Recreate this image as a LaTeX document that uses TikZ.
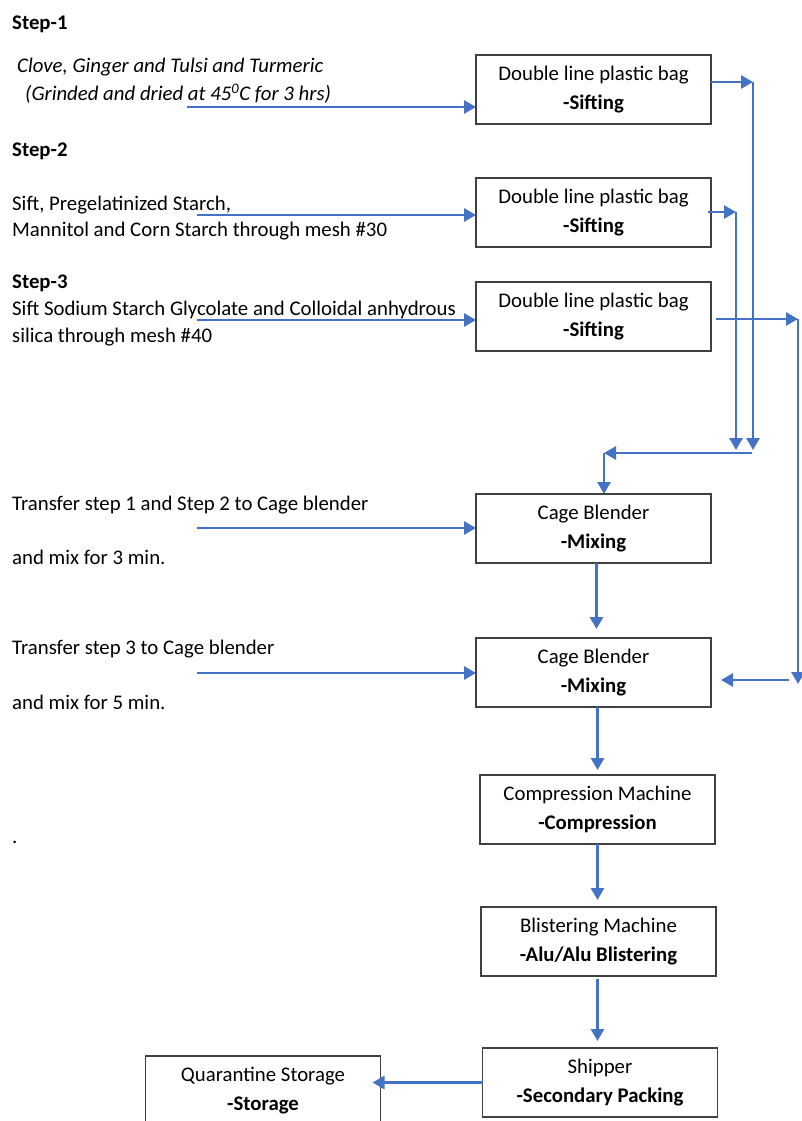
\documentclass[tikz,border=0pt]{standalone}
\usepackage{fontspec}
\setmainfont{Carlito}
\usetikzlibrary{positioning}
\usetikzlibrary{arrows.meta}
\definecolor{flowblue}{HTML}{4472C4}

\begin{document}
\begin{tikzpicture}[x=1pt, y=-1pt,
                font=\fontsize{20.8}{29}\selectfont,
                processnode/.style={rectangle, draw=black!75, line width=1.2pt, fill=white, minimum width=235pt, minimum height=69pt, align=center, inner sep=0pt, outer sep=0pt},
                labelnode/.style={anchor=west, inner sep=0pt, text height=18pt, text depth=2pt},
                flowarrow/.style={draw=flowblue, line width=2.8pt, -{Triangle[length=12pt, width=13pt]}},
                ]
                \useasboundingbox (0,0) rectangle (801,1121);

                % machines
                \node[processnode] (bag1) at (593.5,89.5) {Double line plastic bag\\\textbf{-Sifting}};
                \node[processnode, below=54pt of bag1] (bag2) {Double line plastic bag\\\textbf{-Sifting}};
                \node[processnode, below=35pt of bag2] (bag3) {Double line plastic bag\\\textbf{-Sifting}};
                \node[processnode, below=143pt of bag3] (blend1) {Cage Blender\\\textbf{-Mixing}};
                \node[processnode, below=75pt of blend1] (blend2) {Cage Blender\\\textbf{-Mixing}};
                \node[processnode, below=68pt of blend2, xshift=4pt] (compress) {Compression Machine\\\textbf{-Compression}};
                \node[processnode, below=63pt of compress, xshift=1pt] (blister) {Blistering Machine\\\textbf{-Alu/Alu Blistering}};
                \node[processnode, below=72pt of blister, xshift=1.5pt] (shipper) {Shipper\\\textbf{-Secondary Packing}};
                \node[processnode, left=102pt of shipper, yshift=-8pt] (storage) {Quarantine Storage\\\textbf{-Storage}};

                % steps
                \node[labelnode] (step1) at (12,22) {\textbf{Step-1}};
                \node[labelnode] (herbs) at (17,65) {\textit{Clove, Ginger and Tulsi and Turmeric}};
                \node[labelnode] (dried) at (25,93) {\textit{(Grinded and dried at 45\textsuperscript{0}C for 3 hrs)}};
                \node[labelnode] (step2) at (12,148) {\textbf{Step-2}};
                \node[labelnode] (sift2a) at (12,202) {Sift, Pregelatinized Starch,};
                \node[labelnode] (sift2b) at (12,228) {Mannitol and Corn Starch through mesh \#30};
                \node[labelnode] (step3) at (12,280) {\textbf{Step-3}};
                \node[labelnode] (sift3a) at (12,307) {Sift Sodium Starch Glycolate and Colloidal anhydrous};
                \node[labelnode] (sift3b) at (12,334) {silica through mesh \#40};
                \node[labelnode] (mix1a) at (12,502) {Transfer step 1 and Step 2 to Cage blender};
                \node[labelnode] (mix1b) at (12,556) {and mix for 3 min.};
                \node[labelnode] (mix2a) at (12,646) {Transfer step 3 to Cage blender};
                \node[labelnode] (mix2b) at (12,701) {and mix for 5 min.};
                \node[labelnode] (dot) at (12,835) {.};

                \coordinate (s1) at (187,107);
                \coordinate (s2) at (197,215);
                \coordinate (s3) at (197,320);
                \coordinate (s4) at (197,528);
                \coordinate (s5) at (197,673);

                \coordinate (k1) at (753,82);
                \coordinate (k1b) at (753,450);
                \coordinate (k2) at (736,212);
                \coordinate (k2b) at (736,450);
                \coordinate (k3) at (798,319);
                \coordinate (k3b) at (798,684);
                \coordinate (r5) at (789,680);
                \coordinate (m) at (752,453);
                \coordinate (mj) at (604,453);

                \draw[flowarrow] (s1) -- (s1 -| bag1.west);
                \draw[flowarrow] (s2) -- (s2 -| bag2.west);
                \draw[flowarrow] (s3) -- (s3 -| bag3.west);
                \draw[flowarrow] (s4) -- (s4 -| blend1.west);
                \draw[flowarrow] (s5) -- (s5 -| blend2.west);

                \draw[flowarrow] (k1 -| bag1.east) -- (k1);
                \draw[flowarrow] (k1) -- (k1b);
                \draw[flowarrow] ([xshift=-3pt]k2 -| bag2.east) -- (k2);
                \draw[flowarrow] (k2) -- (k2b);
                \draw[flowarrow] ([xshift=5pt]k3 -| bag3.east) -- (k3);
                \draw[flowarrow] (k3) -- (k3b);
                \draw[flowarrow] (m) -- (mj);
                \draw[flowarrow] (mj) -- (mj |- blend1.north);
                \draw[flowarrow] (r5) -- ([xshift=10pt]r5 -| blend2.east);

                \draw[flowarrow, shorten >=9pt] ([xshift=3pt]blend1.south) -- ([xshift=3pt]blend2.north);
                \draw[flowarrow, shorten >=5pt] (blend2.south -| compress.north) -- (compress.north);
                \draw[flowarrow, shorten >=7pt] (compress.south) -- (compress.south |- blister.north);
                \draw[flowarrow, shorten >=7pt, shorten <=3pt] (blister.south -| compress.south) -- (compress.south |- shipper.north);
                \draw[flowarrow] (shipper.west) -- ([xshift=-8pt]shipper.west -| storage.east);
            \end{tikzpicture}
\end{document}
